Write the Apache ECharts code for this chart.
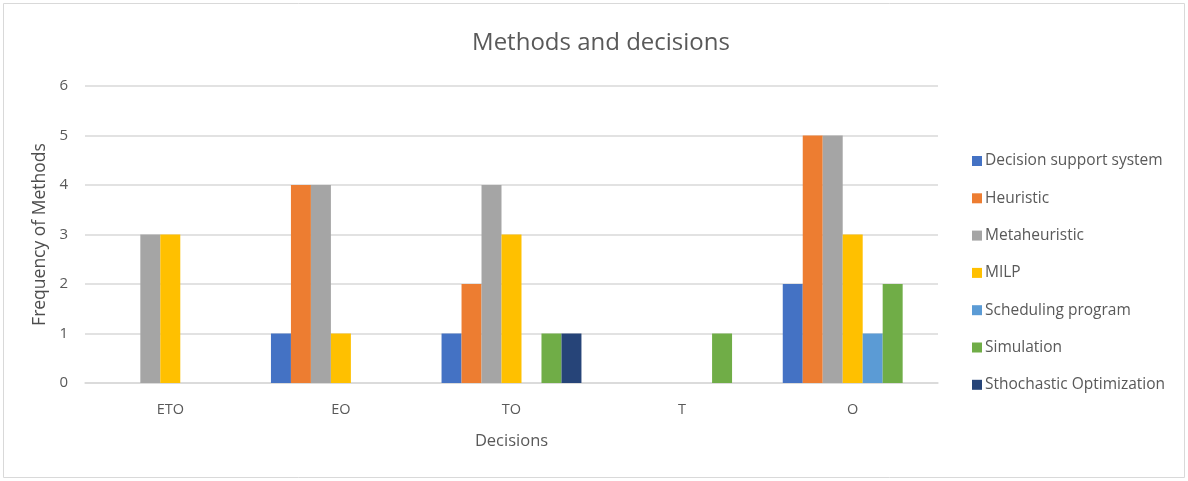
<!DOCTYPE html>
<html>
<head>
<meta charset="utf-8">
<script src="https://cdn.jsdelivr.net/npm/echarts@6/dist/echarts.min.js"></script>
<style>
  html, body { margin: 0; padding: 0; background: #fff; }
  #chart { width: 1188px; height: 481px; }
</style>
</head>
<body>
<div id="chart"></div>
<script>
// Decision types on the x axis
const decisions = ['ETO', 'EO', 'TO', 'T', 'O'];

// Frequency of each method per decision type
const decisionSupportSystem = [0, 1, 1, 0, 2];
const heuristic = [0, 4, 2, 0, 5];
const metaheuristic = [3, 4, 4, 0, 5];
const milp = [3, 1, 3, 0, 3];
const schedulingProgram = [0, 0, 0, 0, 1];
const simulation = [0, 0, 1, 1, 2];
const stochasticOptimization = [0, 0, 1, 0, 0];

const seriesNames = ['Decision support system', 'Heuristic', 'Metaheuristic', 'MILP',
  'Scheduling program', 'Simulation', 'Sthochastic Optimization'];
const seriesData = [decisionSupportSystem, heuristic, metaheuristic, milp,
  schedulingProgram, simulation, stochasticOptimization];
const colors = ['#4472C4', '#ED7D31', '#A5A5A5', '#FFC000', '#5B9BD5', '#70AD47', '#264478'];

const textColor = '#595959';
const fontFamily = "'Open Sans', 'Liberation Sans', sans-serif";

const chart = echarts.init(document.getElementById('chart'), null, { renderer: 'canvas' });
chart.setOption({
  animation: false,
  color: colors,
  textStyle: { fontFamily: fontFamily },
  title: {
    text: 'Methods and decisions',
    left: 596,
    textAlign: 'center',
    top: 26,
    textStyle: { color: textColor, fontSize: 24, fontWeight: 'normal', fontFamily: fontFamily }
  },
  graphic: [{
    type: 'rect',
    shape: { x: 3.5, y: 3.5, width: 1181, height: 474 },
    style: { fill: 'none', stroke: '#d9d9d9', lineWidth: 1 },
    silent: true
  }],
  legend: {
    orient: 'vertical',
    left: 967,
    top: 147,
    itemWidth: 10,
    itemHeight: 10,
    itemGap: 19.3,
    icon: 'rect',
    textStyle: { color: textColor, fontSize: 15.5, lineHeight: 18, fontFamily: fontFamily, padding: [0, 0, 0, -2] },
    data: seriesNames
  },
  grid: { left: 85, right: 250, top: 86, bottom: 98, containLabel: false },
  xAxis: {
    type: 'category',
    data: decisions,
    name: 'Decisions',
    nameLocation: 'middle',
    nameGap: 50,
    nameTextStyle: { color: textColor, fontSize: 16.5, fontFamily: fontFamily },
    axisLine: { show: true, lineStyle: { color: '#d9d9d9', width: 1.5 } },
    axisTick: { show: false },
    axisLabel: { color: textColor, fontSize: 14.5, margin: 19, fontFamily: fontFamily }
  },
  yAxis: {
    type: 'value',
    min: 0,
    max: 6,
    interval: 1,
    name: 'Frequency of Methods',
    nameLocation: 'middle',
    nameGap: 35,
    nameTextStyle: { color: '#4d4d4d', fontSize: 17.5, fontWeight: 500, fontFamily: fontFamily },
    axisLine: { show: false },
    axisTick: { show: false },
    axisLabel: { color: textColor, fontSize: 15, margin: 17, fontFamily: fontFamily },
    splitLine: { lineStyle: { color: '#d9d9d9', width: 1.5 } }
  },
  series: seriesNames.map((name, i) => ({
    name: name,
    type: 'bar',
    data: seriesData[i],
    barGap: '0%',
    barCategoryGap: '18%',
    itemStyle: { color: colors[i] }
  }))
});
</script>
</body>
</html>
